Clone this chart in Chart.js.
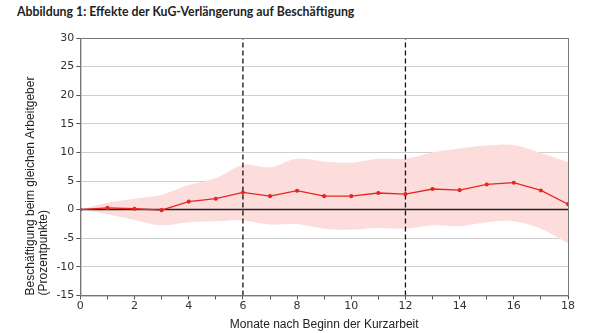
<!DOCTYPE html>
<html>
<head>
<meta charset="utf-8">
<script src="https://cdn.jsdelivr.net/npm/chart.js@4"></script>
<style>
  html, body { margin: 0; padding: 0; background: #fff; }
  #wrap { position: relative; width: 590px; height: 333px; }
  #ttl { position: absolute; left: 17px; top: 4px; font: bold 12.3px Lato, "Open Sans", sans-serif; color: #222; }
  canvas { position: absolute; left: 0; top: 0; }
</style>
</head>
<body>
<div id="wrap">
  <div id="ttl">Abbildung 1: Effekte der KuG-Verlängerung auf Beschäftigung</div>
  <canvas id="c" width="590" height="333"></canvas>
</div>
<script>
// ── Data ──────────────────────────────────────────────────────────
const months = [0,1,2,3,4,5,6,7,8,9,10,11,12,13,14,15,16,17,18];
const effect = [0,0.3,0.15,-0.1,1.4,1.9,3.0,2.35,3.3,2.35,2.35,2.9,2.7,3.6,3.4,4.4,4.7,3.35,0.95];
const upper  = [0,1.2,1.9,2.6,4.3,5.5,7.8,7.4,8.9,8.4,8.2,8.9,8.9,10.0,10.7,11.2,11.3,9.9,8.3];
const lower  = [0,-0.8,-1.8,-2.75,-2.2,-2.05,-1.9,-2.6,-2.5,-3.35,-3.5,-3.2,-3.35,-2.75,-2.9,-2.2,-2.05,-3.35,-5.9];
const markers = [6, 12];
const yTicks = { min: -15, max: 30, step: 5 };

const pts = arr => months.map((m, i) => ({ x: m, y: arr[i] }));

// frame around plot area
const frame = {
  id: "frame",
  afterDraw(chart) {
    const { ctx, chartArea: a } = chart;
    ctx.save();
    ctx.strokeStyle = "#777";
    ctx.lineWidth = 1;
    ctx.strokeRect(a.left + 0.5, a.top + 0.5, a.right - a.left, a.bottom - a.top);
    ctx.restore();
  }
};

new Chart(document.getElementById("c"), {
  type: "line",
  data: {
    datasets: [
      { data: pts(upper), borderWidth: 0, pointRadius: 0, fill: "+1", backgroundColor: "#fddcdc", tension: 0.35, order: 5 },
      { data: pts(lower), borderWidth: 0, pointRadius: 0, fill: false, tension: 0.35, order: 5 },
      { data: [{ x: 0, y: 0 }, { x: 18, y: 0 }], borderColor: "#222", borderWidth: 1.5, pointRadius: 0, order: 3 },
      ...markers.map(m => ({ data: [{ x: m, y: yTicks.min }, { x: m, y: yTicks.max }], borderColor: "#111", borderWidth: 1.3, borderDash: [5, 3], pointRadius: 0, order: 2 })),
      { data: pts(effect), borderColor: "#e8261f", borderWidth: 1.3, pointRadius: 1.4, pointBackgroundColor: "#e8261f", pointBorderColor: "#e8261f", order: 1 }
    ]
  },
  options: {
    responsive: false,
    animation: false,
    layout: { padding: { top: 38, right: 22, left: 20, bottom: 1 } },
    plugins: { legend: { display: false }, tooltip: { enabled: false } },
    scales: {
      x: {
        type: "linear", min: 0, max: 18,
        ticks: { stepSize: 1, autoSkip: false, maxRotation: 0, padding: 0, color: "#333", font: { family: "DejaVu Sans", size: 11 },
          callback: v => (v % 2 === 0 ? v : "") },
        grid: { drawOnChartArea: false, drawTicks: true, tickLength: 4, color: "#555" },
        border: { color: "#777" },
        title: { display: true, text: "Monate nach Beginn der Kurzarbeit", color: "#222", font: { family: "Liberation Sans", size: 12 }, padding: { top: 5, bottom: 0 } }
      },
      y: {
        min: yTicks.min, max: yTicks.max,
        ticks: { stepSize: yTicks.step, color: "#333", font: { family: "DejaVu Sans", size: 11 }, padding: 2 },
        grid: { color: "#cfcfcf", tickLength: 4, tickColor: "#555" },
        border: { color: "#777" },
        title: { display: true, align: "start", text: ["Beschäftigung beim gleichen Arbeitgeber", "(Prozentpunkte)"], color: "#222",
          font: { family: "Liberation Sans", size: 12, lineHeight: 1.1 }, padding: { bottom: 4 } }
      }
    }
  },
  plugins: [frame]
});
</script>
</body>
</html>
